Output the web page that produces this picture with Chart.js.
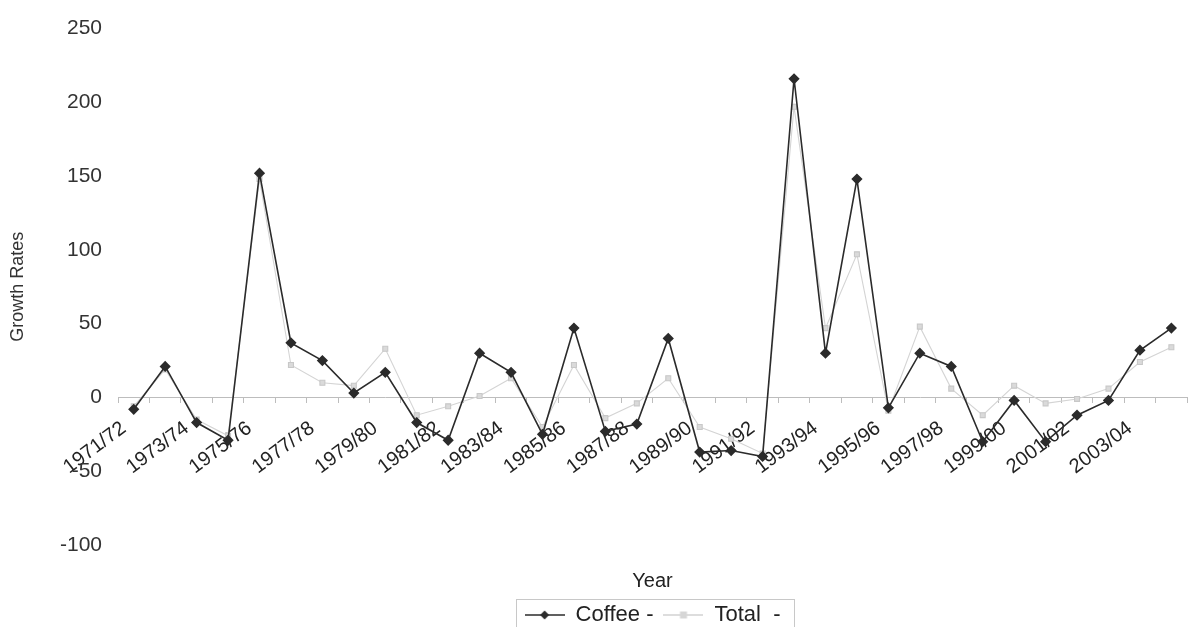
<!DOCTYPE html>
<html>
<head>
<meta charset="utf-8">
<title>Coffee and Total growth rates</title>
<script src="https://cdn.jsdelivr.net/npm/chart.js@4.4.1/dist/chart.umd.min.js"></script>
<style>
  html, body { margin: 0; padding: 0; background: #fff; overflow: hidden; }
</style>
</head>
<body>
<canvas id="growth-chart" width="1200" height="627"></canvas>
<script>
// Crop years (every other one gets a tick label)
const years = [
  '1971/72', '1972/73', '1973/74', '1974/75', '1975/76', '1976/77', '1977/78', '1978/79',
  '1979/80', '1980/81', '1981/82', '1982/83', '1983/84', '1984/85', '1985/86', '1986/87',
  '1987/88', '1988/89', '1989/90', '1990/91', '1991/92', '1992/93', '1993/94', '1994/95',
  '1995/96', '1996/97', '1997/98', '1998/99', '1999/00', '2000/01', '2001/02', '2002/03',
  '2003/04', '2004/05'
];

// Growth rates
const coffeeRates = [
  -8, 21, -17, -29, 152, 37, 25, 3, 17, -17, -29, 30, 17, -25, 47, -23, -18,
  40, -37, -36, -40, 216, 30, 148, -7, 30, 21, -30, -2, -30, -12, -2, 32, 47
];
const totalRates = [
  -6, 19, -15, -26, 148, 22, 10, 8, 33, -12, -6, 1, 13, -20, 22, -14, -4,
  13, -20, -28, -38, 197, 47, 97, -9, 48, 6, -12, 8, -4, -1, 6, 24, 34
];

const yTicks = { min: -100, max: 250, step: 50 };

Chart.defaults.font.family = "'Liberation Sans', Arial, sans-serif";
Chart.defaults.color = '#222';

// Small line + marker pictures for the legend
function makeLegendIcon(lineColor, markerColor, marker) {
  const c = document.createElement('canvas');
  c.width = 40;
  c.height = 12;
  const g = c.getContext('2d');
  g.strokeStyle = lineColor;
  g.lineWidth = 1.5;
  g.beginPath();
  g.moveTo(0, 6);
  g.lineTo(40, 6);
  g.stroke();
  g.fillStyle = markerColor;
  g.beginPath();
  if (marker === 'diamond') {
    g.moveTo(20, 1.5);
    g.lineTo(24.5, 6);
    g.lineTo(20, 10.5);
    g.lineTo(15.5, 6);
  } else {
    g.rect(16.5, 2.5, 7, 7);
  }
  g.closePath();
  g.fill();
  return c;
}

const legendIcons = [
  makeLegendIcon('#2b2b2b', '#2b2b2b', 'diamond'),
  makeLegendIcon('#d2d2d2', '#d6d6d6', 'square')
];

// Thin grey frame round the legend entries
const legendFrame = {
  id: 'legendFrame',
  afterDraw(chart) {
    const boxes = chart.legend && chart.legend.legendHitBoxes;
    if (!boxes || !boxes.length) return;
    let left = Infinity, right = -Infinity, top = Infinity;
    boxes.forEach(b => {
      left = Math.min(left, b.left);
      right = Math.max(right, b.left + b.width);
      top = Math.min(top, b.top);
    });
    const ctx = chart.ctx;
    ctx.save();
    ctx.strokeStyle = '#c8c8c8';
    ctx.lineWidth = 1;
    ctx.strokeRect(Math.round(left - 9) + 0.5, Math.round(top - 5) + 0.5,
      Math.round(right - left + 22), 40);
    ctx.restore();
  }
};

const ctx = document.getElementById('growth-chart').getContext('2d');
new Chart(ctx, {
  type: 'line',
  data: {
    labels: years,
    datasets: [
      {
        label: 'Coffee -',
        data: coffeeRates,
        borderColor: '#2b2b2b',
        backgroundColor: '#2b2b2b',
        borderWidth: 1.6,
        pointStyle: 'rectRot',
        pointRadius: 4.5,
        pointBackgroundColor: '#2b2b2b',
        pointBorderColor: '#2b2b2b',
        tension: 0
      },
      {
        label: 'Total  -',
        data: totalRates,
        borderColor: '#d4d4d4',
        backgroundColor: '#d6d6d6',
        borderWidth: 1.1,
        pointStyle: 'rect',
        pointRadius: 3.5,
        pointBackgroundColor: '#dadada',
        pointBorderColor: '#c8c8c8',
        tension: 0
      }
    ]
  },
  options: {
    responsive: false,
    animation: false,
    // legend runs a little past the bottom edge, as in the scan
    layout: { padding: { top: 26, right: 2, left: 0, bottom: -9 } },
    scales: {
      x: {
        type: 'category',
        offset: true,
        position: { y: 0 },
        afterFit: scale => { scale.height = 0; },
        grid: {
          drawOnChartArea: false,
          drawTicks: true,
          tickLength: 5,
          color: '#bdbdbd',
          offset: true
        },
        border: { display: true, color: '#bdbdbd', width: 1 },
        ticks: {
          autoSkip: false,
          minRotation: 37,
          maxRotation: 37,
          labelOffset: -10,
          padding: 14,
          color: '#222',
          font: { size: 20 },
          callback: function (value, index) {
            return index % 2 === 0 ? this.getLabelForValue(value) : '';
          }
        }
      },
      y: {
        min: yTicks.min,
        max: yTicks.max,
        afterFit: scale => { scale.width = 118; },
        grid: { display: false, drawTicks: false },
        border: { display: false },
        ticks: {
          stepSize: yTicks.step,
          padding: 16,
          color: '#333',
          font: { size: 21 }
        },
        title: {
          display: true,
          text: 'Growth Rates',
          color: '#333',
          font: { size: 18 },
          padding: { top: 7, bottom: 0 }
        }
      }
    },
    plugins: {
      title: {
        display: true,
        text: 'Year',
        position: 'bottom',
        fullSize: false,
        weight: 500,
        color: '#222',
        font: { size: 20, weight: 'normal' },
        padding: { top: 24, bottom: 1 }
      },
      legend: {
        position: 'bottom',
        fullSize: false,
        weight: 1000,
        labels: {
          usePointStyle: true,
          pointStyleWidth: 40,
          padding: 10,
          color: '#222',
          font: { size: 22 },
          generateLabels: chart => {
            const items = Chart.defaults.plugins.legend.labels.generateLabels(chart);
            items.forEach((item, i) => { item.pointStyle = legendIcons[i]; });
            return items;
          }
        }
      },
      tooltip: { enabled: false }
    }
  },
  plugins: [legendFrame]
});
</script>
</body>
</html>
